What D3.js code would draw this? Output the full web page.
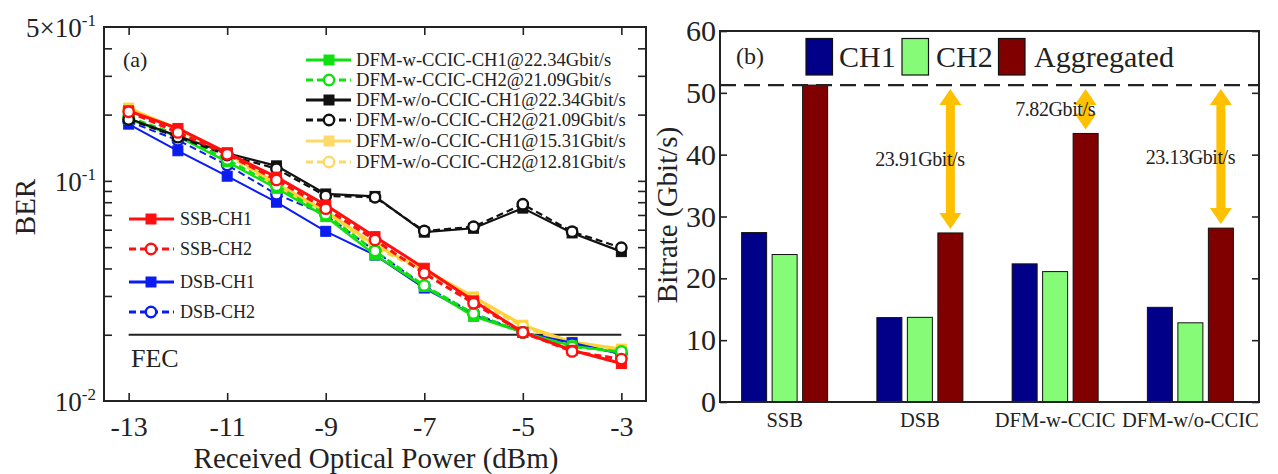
<!DOCTYPE html>
<html>
<head>
<meta charset="utf-8">
<script src="https://cdn.jsdelivr.net/npm/d3@7"></script>
<style>
  body { margin: 0; background: #fff; }
  svg { display: block; }
  text { font-family: "Liberation Serif", "Times New Roman", serif; fill: #222; }
</style>
</head>
<body>
<svg id="fig" width="1278" height="474"></svg>
<script>
// ---------- (a) BER versus received optical power ----------
const powers = [-13, -12, -11, -10, -9, -8, -7, -6, -5, -4, -3];
const ssbCh1   = [0.208, 0.173, 0.134, 0.104, 0.0777, 0.0558, 0.0401, 0.0285, 0.0205, 0.0170, 0.0148];
const ssbCh2   = [0.206, 0.166, 0.132, 0.101, 0.0748, 0.0539, 0.0380, 0.0278, 0.0205, 0.0168, 0.0155];
const dsbCh1   = [0.181, 0.137, 0.105, 0.080, 0.0590, 0.0460, 0.0326, 0.0246, 0.0205, 0.0184, 0.0163];
const dsbCh2   = [0.186, 0.153, 0.118, 0.087, 0.0700, 0.0480, 0.0333, 0.0250, 0.0205, 0.0182, 0.0164];
const dfmwCh1  = [0.191, 0.159, 0.122, 0.0925, 0.0688, 0.0461, 0.0331, 0.0242, 0.0205, 0.0178, 0.0166];
const dfmwCh2  = [0.195, 0.162, 0.125, 0.095, 0.0705, 0.0480, 0.0335, 0.0250, 0.0205, 0.0176, 0.0168];
const dfmwoCh1 = [0.192, 0.160, 0.1335, 0.117, 0.0872, 0.0850, 0.0585, 0.0609, 0.0752, 0.0580, 0.0477];
const dfmwoCh2 = [0.190, 0.158, 0.131, 0.1136, 0.0854, 0.0842, 0.0592, 0.0619, 0.0783, 0.0588, 0.0497];
const lowCh1   = [0.214, 0.172, 0.134, 0.097, 0.0730, 0.0510, 0.0395, 0.0297, 0.0221, 0.0185, 0.0172];
const lowCh2   = [0.212, 0.170, 0.132, 0.095, 0.0725, 0.0500, 0.0390, 0.0292, 0.0218, 0.0182, 0.0170];

const powerTicks = [-13, -11, -9, -7, -5, -3];
const berTicks = [0.02, 0.03, 0.04, 0.05, 0.06, 0.07, 0.08, 0.09, 0.1, 0.2, 0.3, 0.4];
const berLabelValues = [0.01, 0.1, 0.5];
const berLabelMantissa = ["", "", "5\u00d7"];
const berLabelExponent = ["-2", "-1", "-1"];
const fecLevel = 0.02;

const topLegendNames = [
  "DFM-w-CCIC-CH1@22.34Gbit/s", "DFM-w-CCIC-CH2@21.09Gbit/s",
  "DFM-w/o-CCIC-CH1@22.34Gbit/s", "DFM-w/o-CCIC-CH2@21.09Gbit/s",
  "DFM-w/o-CCIC-CH1@15.31Gbit/s", "DFM-w/o-CCIC-CH2@12.81Gbit/s"
];
const sideLegendNames = ["SSB-CH1", "SSB-CH2", "DSB-CH1", "DSB-CH2"];

// ---------- (b) bitrate per scheme ----------
const schemes = ["SSB", "DSB", "DFM-w-CCIC", "DFM-w/o-CCIC"];
const channels = ["CH1", "CH2", "Aggregated"];
const ch1Rate = [27.40, 13.65, 22.34, 15.31];
const ch2Rate = [23.85, 13.69, 21.09, 12.81];
const aggRate = [51.25, 27.34, 43.43, 28.12];
const gapRate = [null, 23.91, 7.82, 23.13];
const rateTicks = [0, 10, 20, 30, 40, 50, 60];

const svg = d3.select("#fig");
const INK = "#222";

// ====================== panel (a) ======================
const xA = d3.scaleLinear().domain([-13.5, -2.5]).range([104, 646]);
const yA = d3.scaleLog().domain([0.01, 0.5]).range([401, 27]);
const gA = svg.append("g");

// inward ticks on all four sides
function tickAxis(g, axis, tx, ty) {
  const a = g.append("g").attr("transform", `translate(${tx},${ty})`).call(axis);
  a.select(".domain").remove();
  a.selectAll(".tick line").attr("stroke", INK).attr("stroke-width", 1.6);
  return a;
}
const xAxisA = tickAxis(gA, d3.axisBottom(xA).tickValues(powerTicks).tickSize(-8).tickPadding(15)
  .tickFormat(d => d), 0, yA.range()[0]);
xAxisA.selectAll("text").attr("font-size", 28).attr("fill", INK)
  .style("font-family", '"Liberation Serif", serif');
tickAxis(gA, d3.axisTop(xA).tickValues(powerTicks).tickSize(-8).tickFormat(""), 0, yA.range()[1]);
tickAxis(gA, d3.axisLeft(yA).tickValues(berTicks).tickSize(-8).tickFormat(""), xA.range()[0], 0);
tickAxis(gA, d3.axisRight(yA).tickValues(berTicks).tickSize(-8).tickFormat(""), xA.range()[1], 0);

gA.append("rect")
  .attr("x", xA.range()[0]).attr("y", yA.range()[1])
  .attr("width", xA.range()[1] - xA.range()[0]).attr("height", yA.range()[0] - yA.range()[1])
  .attr("fill", "none").attr("stroke", INK).attr("stroke-width", 2);

// power-of-ten labels
berLabelValues.forEach((v, i) => {
  const t = gA.append("text").attr("x", 96).attr("y", yA(v) + 10)
    .attr("text-anchor", "end").attr("font-size", 27);
  t.append("tspan").text(berLabelMantissa[i] + "10");
  t.append("tspan").attr("dy", -11).attr("font-size", 17).text(berLabelExponent[i]);
});

gA.append("text").attr("transform", "translate(35,207) rotate(-90)")
  .attr("text-anchor", "middle").attr("font-size", 29).text("BER");
gA.append("text").attr("x", 376).attr("y", 468)
  .attr("text-anchor", "middle").attr("font-size", 29).text("Received Optical Power (dBm)");
gA.append("text").attr("x", 123).attr("y", 67).attr("font-size", 22).text("(a)");

// FEC threshold
gA.append("line")
  .attr("x1", xA(powerTicks[0])).attr("x2", xA(powerTicks[powerTicks.length - 1]))
  .attr("y1", yA(fecLevel)).attr("y2", yA(fecLevel))
  .attr("stroke", INK).attr("stroke-width", 2);
gA.append("text").attr("x", 131).attr("y", 367).attr("font-size", 26).text("FEC");

const series = [
  { v: lowCh1,   color: "#ffd23a", dash: null,  mark: "square", w: 3.2 },
  { v: lowCh2,   color: "#ffd23a", dash: "7 4", mark: "circle", w: 3.2 },
  { v: dsbCh1,   color: "#0a1cf0", dash: null,  mark: "square", w: 2 },
  { v: dsbCh2,   color: "#0a1cf0", dash: "7 4", mark: "circle", w: 2 },
  { v: dfmwCh1,  color: "#10e010", dash: null,  mark: "square", w: 2.4 },
  { v: dfmwCh2,  color: "#10e010", dash: "7 4", mark: "circle", w: 2.4 },
  { v: dfmwoCh1, color: "#111111", dash: null,  mark: "square", w: 2.2 },
  { v: dfmwoCh2, color: "#111111", dash: "7 4", mark: "circle", w: 2.2 },
  { v: ssbCh1,   color: "#ff1010", dash: null,  mark: "square", w: 3 },
  { v: ssbCh2,   color: "#ff1010", dash: "7 4", mark: "circle", w: 3 }
];

function drawMarker(g, kind, color, cx, cy) {
  if (kind === "square") {
    g.append("rect").attr("x", cx - 5).attr("y", cy - 5).attr("width", 10).attr("height", 10)
      .attr("fill", color).attr("stroke", color).attr("stroke-width", 1);
  } else {
    g.append("circle").attr("cx", cx).attr("cy", cy).attr("r", 5.2)
      .attr("fill", "#fff").attr("stroke", color).attr("stroke-width", 2.4);
  }
}

const line = d3.line().x((d, i) => xA(powers[i])).y(d => yA(d));
const plotA = gA.append("g");
series.forEach(s => {
  const g = plotA.append("g");
  g.append("path").attr("d", line(s.v)).attr("fill", "none")
    .attr("stroke", s.color).attr("stroke-width", s.w)
    .attr("stroke-dasharray", s.dash);
  s.v.forEach((d, i) => drawMarker(g, s.mark, s.color, xA(powers[i]), yA(d)));
});

// legends of panel (a)
const topLegend = [
  { color: "#10e010", dash: null,  mark: "square" },
  { color: "#10e010", dash: "7 4", mark: "circle" },
  { color: "#111111", dash: null,  mark: "square" },
  { color: "#111111", dash: "7 4", mark: "circle" },
  { color: "#ffd966", dash: null,  mark: "square" },
  { color: "#ffd966", dash: "7 4", mark: "circle" }
];
const topRows = [60, 80, 100, 120, 141, 162];
topLegendNames.forEach((name, i) => {
  const s = topLegend[i], y = topRows[i];
  const g = gA.append("g");
  g.append("line").attr("x1", 306).attr("x2", 351).attr("y1", y).attr("y2", y)
    .attr("stroke", s.color).attr("stroke-width", 3).attr("stroke-dasharray", s.dash);
  drawMarker(g, s.mark, s.color, 329, y);
  g.append("text").attr("x", 356).attr("y", y + 6).attr("font-size", 18.6).text(name);
});
const sideLegend = [
  { color: "#ff1010", dash: null,  mark: "square" },
  { color: "#ff1010", dash: "7 4", mark: "circle" },
  { color: "#0a1cf0", dash: null,  mark: "square" },
  { color: "#0a1cf0", dash: "7 4", mark: "circle" }
];
const sideRows = [219, 249, 282, 312];
sideLegendNames.forEach((name, i) => {
  const s = sideLegend[i], y = sideRows[i];
  const g = gA.append("g");
  g.append("line").attr("x1", 129).attr("x2", 174).attr("y1", y).attr("y2", y)
    .attr("stroke", s.color).attr("stroke-width", 3).attr("stroke-dasharray", s.dash);
  drawMarker(g, s.mark, s.color, 151, y);
  g.append("text").attr("x", 180).attr("y", y + 6).attr("font-size", 18).text(name);
});

// ====================== panel (b) ======================
const xB = d3.scaleBand().domain(schemes).range([717, 1258]).padding(0);
const yB = d3.scaleLinear().domain([0, 60]).range([402, 31]);
const xInner = d3.scaleBand().domain(channels).range([-43, 43]).paddingInner(0.18).paddingOuter(0);
const barColor = d3.scaleOrdinal().domain(channels).range(["#000088", "#86fb78", "#800000"]);
const gB = svg.append("g");

const yAxisB = tickAxis(gB, d3.axisLeft(yB).tickValues(rateTicks).tickSize(-7).tickPadding(4), 720, 0);
yAxisB.selectAll("text").attr("font-size", 30).attr("fill", INK)
  .style("font-family", '"Liberation Serif", serif');
tickAxis(gB, d3.axisRight(yB).tickValues(rateTicks).tickSize(-7).tickFormat(""), 1259, 0);

const rows = schemes.map((s, i) => ({ scheme: s, values: [ch1Rate[i], ch2Rate[i], aggRate[i]] }));
rows.forEach(r => {
  const cx = xB(r.scheme) + xB.bandwidth() / 2;
  r.values.forEach((v, j) => {
    gB.append("rect")
      .attr("x", cx + xInner(channels[j])).attr("width", xInner.bandwidth())
      .attr("y", yB(v)).attr("height", yB(0) - yB(v))
      .attr("fill", barColor(channels[j])).attr("stroke", "#111").attr("stroke-width", 1);
  });
  gB.append("text").attr("x", cx).attr("y", 427).attr("text-anchor", "middle")
    .attr("font-size", 20.5).text(r.scheme);
});

gB.append("rect").attr("x", 720).attr("y", yB(60))
  .attr("width", 1259 - 720).attr("height", yB(0) - yB(60))
  .attr("fill", "none").attr("stroke", INK).attr("stroke-width", 2);

// reference level: aggregated SSB bitrate
gB.append("line").attr("x1", 720).attr("x2", 1259)
  .attr("y1", yB(aggRate[0])).attr("y2", yB(aggRate[0]))
  .attr("stroke", INK).attr("stroke-width", 2.4).attr("stroke-dasharray", "16 8");

// double-headed gap arrows
function doubleArrow(x, yTop, yBot) {
  const hw = 11, hl = 16, sw = 4.5;
  const p = d3.path();
  p.moveTo(x, yTop);
  p.lineTo(x + hw, yTop + hl); p.lineTo(x + sw, yTop + hl);
  p.lineTo(x + sw, yBot - hl); p.lineTo(x + hw, yBot - hl);
  p.lineTo(x, yBot);
  p.lineTo(x - hw, yBot - hl); p.lineTo(x - sw, yBot - hl);
  p.lineTo(x - sw, yTop + hl); p.lineTo(x - hw, yTop + hl);
  p.closePath();
  gB.append("path").attr("d", p.toString()).attr("fill", "#ffc000");
}
gapRate.forEach((gap, i) => {
  if (gap === null) return;
  const cx = xB(schemes[i]) + xB.bandwidth() / 2;
  const ax = cx + xInner("Aggregated") + xInner.bandwidth() / 2;
  const top = aggRate[0], bottom = aggRate[0] - gap;
  doubleArrow(ax, yB(top) + 4, yB(bottom) - 4);
  gB.append("text").attr("x", cx).attr("y", yB((top + bottom) / 2) + 7)
    .attr("text-anchor", "middle").attr("font-size", 20).attr("letter-spacing", -0.4)
    .text(gap.toFixed(2) + "Gbit/s");
});

// legend and captions of panel (b)
gB.append("text").attr("x", 736).attr("y", 64).attr("font-size", 24).text("(b)");
const legendX = [806, 902, 998.5];
const legendTextX = [839, 936, 1034];
channels.forEach((c, i) => {
  gB.append("rect").attr("x", legendX[i]).attr("y", 38.5).attr("width", 26.5).attr("height", 36.5)
    .attr("fill", barColor(c)).attr("stroke", "#111").attr("stroke-width", 1.2);
  gB.append("text").attr("x", legendTextX[i]).attr("y", 66.5).attr("font-size", 30).text(c);
});

gB.append("text").attr("transform", "translate(677,215) rotate(-90)")
  .attr("text-anchor", "middle").attr("font-size", 29).text("Bitrate (Gbit/s)");
</script>
</body>
</html>
